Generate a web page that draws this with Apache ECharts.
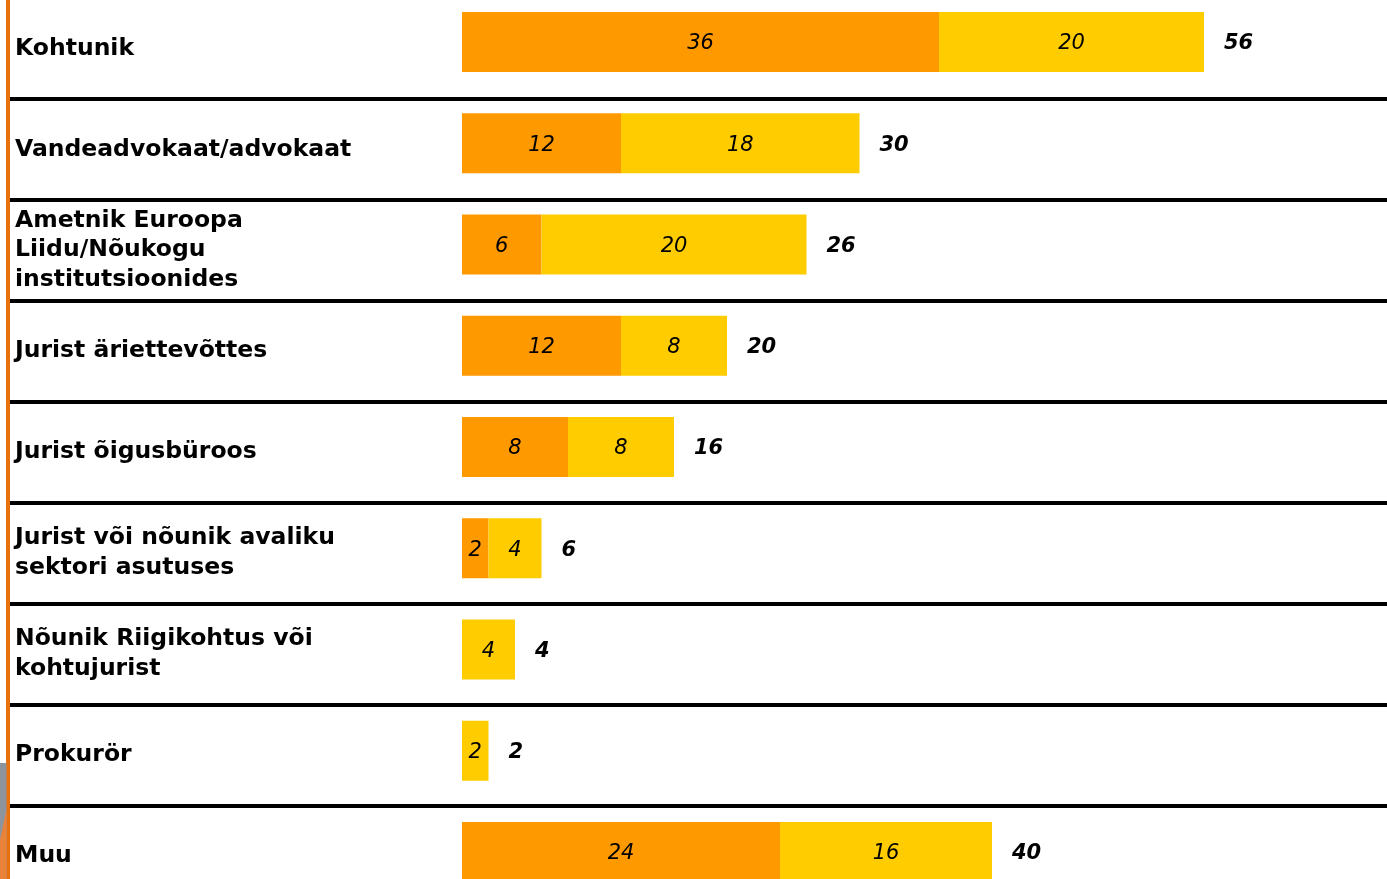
<!DOCTYPE html>
<html>
<head>
<meta charset="utf-8">
<script src="https://cdn.jsdelivr.net/npm/echarts@6/dist/echarts.min.js"></script>
<style>
  html, body { margin: 0; padding: 0; background: #fff; }
  #chart { width: 1387px; height: 879px; }
</style>
</head>
<body>
<div id="chart"></div>
<script>
// kategooriad
const categories = [
  'Kohtunik',
  'Vandeadvokaat/advokaat',
  'Ametnik Euroopa\nLiidu/Nõukogu\ninstitutsioonides',
  'Jurist äriettevõttes',
  'Jurist õigusbüroos',
  'Jurist või nõunik avaliku\nsektori asutuses',
  'Nõunik Riigikohtus või\nkohtujurist',
  'Prokurör',
  'Muu'
];
const orangeValues = [36, 12, 6, 12, 8, 2, 0, 0, 24];
const yellowValues = [20, 18, 20, 8, 8, 4, 4, 2, 16];
const totalValues = [56, 30, 26, 20, 16, 6, 4, 2, 40];

const chart = echarts.init(document.getElementById('chart'));

const innerLabel = {
  show: true,
  position: 'inside',
  offset: [0, 2],
  color: '#000',
  fontFamily: 'DejaVu Sans',
  fontStyle: 'italic',
  fontSize: 21,
  formatter: (p) => (p.value ? p.value : '')
};

const option = {
  animation: false,
  backgroundColor: '#fff',
  grid: [
    // kategooriate ja eraldusjoonte jaoks
    { left: 8, right: 0, top: -1.9, bottom: -27.2, outerBoundsMode: 'none' },
    // tulpade jaoks
    { left: 462, right: 183, top: -8.6, bottom: -23.6, outerBoundsMode: 'none' }
  ],
  xAxis: [
    { gridIndex: 0, type: 'value', min: 0, max: 1, show: false },
    { gridIndex: 1, type: 'value', min: 0, max: 56, show: false }
  ],
  yAxis: [
    {
      gridIndex: 0,
      type: 'category',
      data: categories,
      inverse: true,
      axisLine: { show: true, lineStyle: { color: '#E8700E', width: 4 } },
      axisTick: { show: false },
      axisLabel: {
        inside: true,
        interval: 0,
        margin: 7,
        align: 'left',
        padding: [4, 0, 0, 0],
        color: '#000',
        fontFamily: 'DejaVu Sans',
        fontWeight: 'bold',
        fontSize: 23.5,
        lineHeight: 29.5
      },
      splitLine: { show: true, interval: 0, lineStyle: { color: '#000', width: 4 } }
    },
    {
      gridIndex: 1,
      type: 'category',
      data: categories,
      inverse: true,
      show: false
    }
  ],
  graphic: [
    { type: 'rect', shape: { x: 0, y: 763, width: 6.5, height: 116 }, style: { fill: '#8d949b' }, z: 10 },
    { type: 'polygon', shape: { points: [[0, 879], [0, 840], [6.5, 810], [6.5, 879]] }, style: { fill: '#e9823a' }, z: 11 }
  ],
  series: [
    {
      name: 'a',
      type: 'bar',
      xAxisIndex: 1,
      yAxisIndex: 1,
      stack: 'kokku',
      barWidth: 60,
      itemStyle: { color: '#FF9900' },
      label: innerLabel,
      data: orangeValues
    },
    {
      name: 'b',
      type: 'bar',
      xAxisIndex: 1,
      yAxisIndex: 1,
      stack: 'kokku',
      barWidth: 60,
      itemStyle: { color: '#FFCC00' },
      label: innerLabel,
      data: yellowValues
    },
    {
      name: 'kokku',
      type: 'bar',
      xAxisIndex: 1,
      yAxisIndex: 1,
      barWidth: 60,
      barGap: '-100%',
      silent: true,
      itemStyle: { color: 'transparent' },
      label: {
        show: true,
        position: 'right',
        distance: 20,
        offset: [0, 2],
        color: '#000',
        fontFamily: 'DejaVu Sans',
        fontStyle: 'italic',
        fontWeight: 'bold',
        fontSize: 21
      },
      z: 1,
      data: totalValues
    }
  ]
};

chart.setOption(option);
</script>
</body>
</html>
